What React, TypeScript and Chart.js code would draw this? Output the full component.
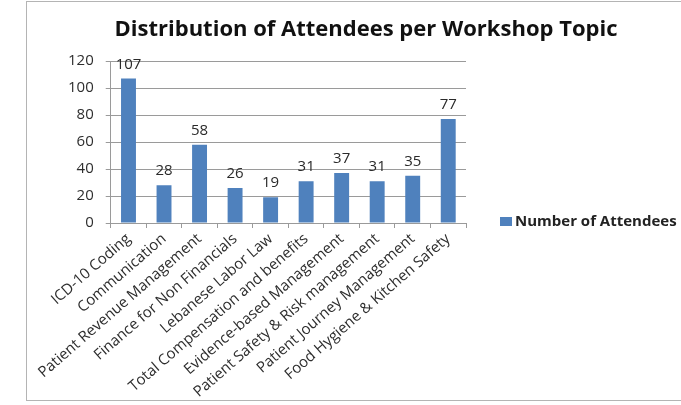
import React, { useEffect, useRef } from "react";
import { Chart, registerables } from "chart.js";

Chart.register(...registerables);

const TITLE = "Distribution of Attendees per Workshop Topic";
const SERIES_LABEL = "Number of Attendees";
const CATEGORIES = [
  "ICD-10 Coding",
  "Communication",
  "Patient Revenue Management",
  "Finance for Non Financials",
  "Lebanese Labor Law",
  "Total Compensation and benefits",
  "Evidence-based Management",
  "Patient Safety & Risk management",
  "Patient Journey Management",
  "Food Hygiene & Kitchen Safety",
];
const VALUES = [107, 28, 58, 26, 19, 31, 37, 31, 35, 77];
const Y_MIN = 0;
const Y_MAX = 120;
const Y_STEP = 20;

const BAR_COLOR = "#4F81BD";
const GRID_COLOR = "#9a9a9a";
const TEXT_COLOR = "#2e2e2e";
const FONT = "'Open Sans', 'DejaVu Sans', sans-serif";
const X_AXIS_HEIGHT = 180;

export default function App() {
  const ref = useRef<HTMLCanvasElement>(null);

  useEffect(() => {
    if (!ref.current) return;

    const titlePlugin = {
      id: "centeredTitle",
      afterDraw(chart: any) {
        const ctx = chart.ctx;
        ctx.save();
        ctx.font = `bold 22px ${FONT}`;
        ctx.fillStyle = "#111111";
        ctx.textAlign = "center";
        ctx.textBaseline = "middle";
        ctx.fillText(TITLE, 366, 30);
        ctx.restore();
      },
    };

    const valueLabels = {
      id: "valueLabels",
      afterDatasetsDraw(chart: any) {
        const ctx = chart.ctx;
        const meta = chart.getDatasetMeta(0);
        const data = chart.data.datasets[0].data as number[];
        ctx.save();
        ctx.font = `15px ${FONT}`;
        ctx.fillStyle = "#2a2a2a";
        ctx.textAlign = "center";
        ctx.textBaseline = "alphabetic";
        meta.data.forEach((bar: any, i: number) => {
          ctx.fillText(String(data[i]), bar.x, bar.y - 10);
        });
        ctx.restore();
      },
    };

    const sideLegend = {
      id: "sideLegend",
      afterDraw(chart: any) {
        const ctx = chart.ctx;
        const ds = chart.data.datasets[0];
        const area = chart.chartArea;
        const x = area.right + 34;
        const y = area.bottom - 1;
        ctx.save();
        ctx.fillStyle = ds.backgroundColor;
        ctx.fillRect(x, y - 5, 12, 9);
        ctx.font = `bold 15px ${FONT}`;
        ctx.fillStyle = "#222222";
        ctx.textAlign = "left";
        ctx.textBaseline = "middle";
        ctx.fillText(ds.label, x + 15, y);
        ctx.restore();
      },
    };

    const chart = new Chart(ref.current, {
      type: "bar",
      data: {
        labels: CATEGORIES,
        datasets: [
          {
            label: SERIES_LABEL,
            data: VALUES,
            backgroundColor: BAR_COLOR,
            borderWidth: 0,
            categoryPercentage: 1,
            barPercentage: 0.42,
          },
        ],
      },
      options: {
        responsive: false,
        animation: false,
        layout: { padding: { top: 61, left: 56, right: 215, bottom: 2 } },
        plugins: {
          legend: { display: false },
          title: { display: false },
          tooltip: { enabled: false },
        },
        scales: {
          x: {
            afterFit: (scale: any) => {
              scale.height = X_AXIS_HEIGHT;
            },
            grid: {
              display: true,
              offset: true,
              drawOnChartArea: false,
              drawTicks: true,
              tickLength: 5,
              color: GRID_COLOR,
            },
            border: { display: true, color: GRID_COLOR },
            ticks: {
              autoSkip: false,
              minRotation: 41,
              maxRotation: 41,
              padding: 2,
              color: TEXT_COLOR,
              font: { family: FONT, size: 15 },
            },
          },
          y: {
            min: Y_MIN,
            max: Y_MAX,
            grid: {
              color: GRID_COLOR,
              drawTicks: true,
              tickLength: 5,
            },
            border: { display: true, color: GRID_COLOR },
            ticks: {
              stepSize: Y_STEP,
              padding: 12,
              color: TEXT_COLOR,
              font: { family: FONT, size: 15 },
            },
          },
        },
      },
      plugins: [titlePlugin, valueLabels, sideLegend],
    });

    return () => chart.destroy();
  }, []);

  return (
    <div
      style={{
        position: "absolute",
        left: 0,
        top: 0,
        width: 681,
        height: 405,
        overflow: "hidden",
        background: "#ffffff",
      }}
    >
      <div
        style={{
          position: "absolute",
          left: 26,
          top: 1,
          width: 700,
          height: 400,
          border: "1px solid #b4b4b4",
          boxSizing: "border-box",
        }}
      />
      <canvas
        ref={ref}
        width={681}
        height={405}
        style={{ position: "absolute", left: 0, top: 0, display: "block" }}
      />
    </div>
  );
}
